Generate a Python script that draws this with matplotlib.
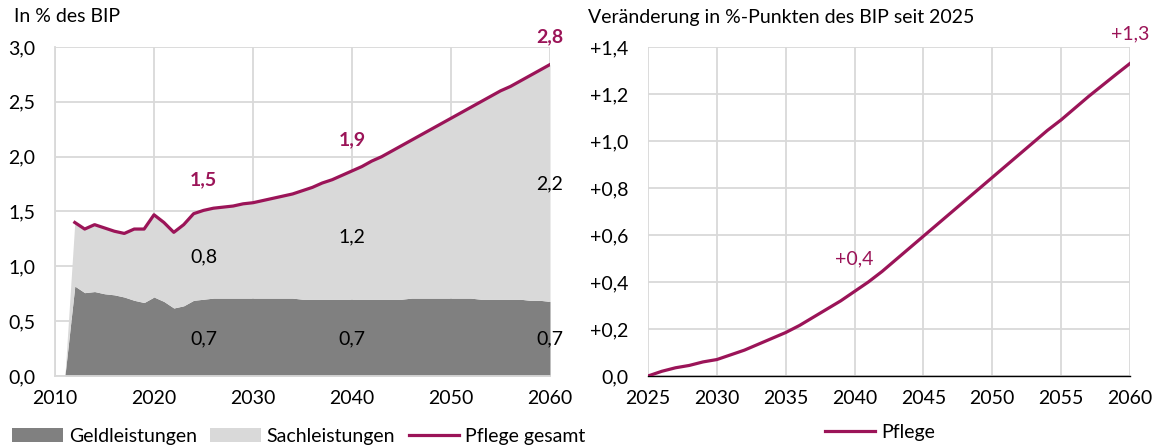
import matplotlib
matplotlib.use("Agg")
import matplotlib.pyplot as plt
from matplotlib.patches import Patch
from matplotlib.lines import Line2D
import numpy as np

plt.rcParams['font.family'] = ['Lato', 'DejaVu Sans']

years_left = list(range(2011, 2061))
geld = [0.0, 0.82, 0.76, 0.77, 0.75, 0.74, 0.72, 0.69, 0.67, 0.72,
        0.68, 0.62, 0.64, 0.69, 0.70, 0.71, 0.71, 0.71, 0.71, 0.71,
        0.71, 0.71, 0.71, 0.71, 0.70, 0.70, 0.70, 0.70, 0.70, 0.70,
        0.70, 0.70, 0.70, 0.70, 0.70, 0.71, 0.71, 0.71, 0.71, 0.71,
        0.71, 0.71, 0.70, 0.70, 0.70, 0.70, 0.70, 0.69, 0.69, 0.68]
gesamt = [0.0, 1.40, 1.34, 1.38, 1.35, 1.32, 1.30, 1.34, 1.34, 1.47,
          1.40, 1.31, 1.38, 1.48, 1.51, 1.53, 1.54, 1.55, 1.57, 1.58,
          1.60, 1.62, 1.64, 1.66, 1.69, 1.72, 1.76, 1.79, 1.83, 1.87,
          1.91, 1.96, 2.00, 2.05, 2.10, 2.15, 2.20, 2.25, 2.30, 2.35,
          2.40, 2.45, 2.50, 2.55, 2.60, 2.64, 2.69, 2.74, 2.79, 2.84]

years_right = list(range(2025, 2061))
delta = [0.0, 0.02, 0.035, 0.045, 0.06, 0.07, 0.09, 0.11, 0.135, 0.16,
         0.185, 0.215, 0.25, 0.285, 0.32, 0.36, 0.40, 0.445, 0.495, 0.545,
         0.595, 0.645, 0.695, 0.745, 0.795, 0.845, 0.895, 0.945, 0.995, 1.045,
         1.09, 1.14, 1.19, 1.237, 1.284, 1.33]

left_yticks = [0.0, 0.5, 1.0, 1.5, 2.0, 2.5, 3.0]
left_xticks = [2010, 2020, 2030, 2040, 2050, 2060]
right_yticks = [0.0, 0.2, 0.4, 0.6, 0.8, 1.0, 1.2, 1.4]
right_xticks = [2025, 2030, 2035, 2040, 2045, 2050, 2055, 2060]

c_dark = '#808080'
c_light = '#d9d9d9'
c_line = '#9b1458'
c_grid = '#d9d9d9'
fs = 14

W, H = 1158, 448
fig = plt.figure(figsize=(W / 100, H / 100), dpi=100)

def fx(p):
    return p / W

def fy(p):
    return 1 - p / H

ax1 = fig.add_axes([fx(55), fy(376), fx(550) - fx(55), fy(47) - fy(376)])
ax2 = fig.add_axes([fx(648), fy(376), fx(1130) - fx(648), fy(47) - fy(376)])

# Left chart
x = np.array(years_left)
g = np.array(geld)
t = np.array(gesamt)
ax1.fill_between(x, 0, g, color=c_dark, lw=0, zorder=2)
ax1.fill_between(x, g, t, color=c_light, lw=0, zorder=2)
ax1.plot(x[1:], t[1:], color=c_line, lw=2.3, zorder=3)
ax1.set_xlim(2010, 2060)
ax1.set_ylim(0, 3.0)
ax1.set_xticks(left_xticks)
ax1.set_yticks(left_yticks)
ax1.set_yticklabels([f"{v:.1f}".replace('.', ',') for v in left_yticks])
ax1.grid(True, color=c_grid, lw=1.3, zorder=0)
ax1.set_axisbelow(True)
for s in ax1.spines.values():
    s.set_visible(False)
ax1.spines['bottom'].set_visible(True)
ax1.spines['bottom'].set_color(c_grid)
ax1.spines['bottom'].set_linewidth(1.3)
ax1.spines['left'].set_visible(True)
ax1.spines['left'].set_color(c_grid)
ax1.spines['left'].set_linewidth(1.3)
ax1.tick_params(length=0, labelsize=fs, pad=14)
ax1.tick_params(axis='x', pad=10)

ax1.text(2025, 1.79, "1,5", color=c_line, fontsize=fs, fontweight='bold', ha='center', va='center')
ax1.text(2040, 2.15, "1,9", color=c_line, fontsize=fs, fontweight='bold', ha='center', va='center')
ax1.text(2060, 3.09, "2,8", color=c_line, fontsize=fs, fontweight='bold', ha='center', va='center')
ax1.text(2025, 1.09, "0,8", color='black', fontsize=fs, ha='center', va='center')
ax1.text(2040, 1.27, "1,2", color='black', fontsize=fs, ha='center', va='center')
ax1.text(2060, 1.75, "2,2", color='black', fontsize=fs, ha='center', va='center')
for xx in (2025, 2040, 2060):
    ax1.text(xx, 0.34, "0,7", color='black', fontsize=fs, ha='center', va='center')

fig.text(fx(14), fy(17), "In % des BIP", fontsize=fs, ha='left', va='center')

handles1 = [Patch(facecolor=c_dark, edgecolor='none', label='Geldleistungen'),
            Patch(facecolor=c_light, edgecolor='none', label='Sachleistungen'),
            Line2D([0], [0], color=c_line, lw=2.3, label='Pflege gesamt')]
fig.legend(handles=handles1, loc='center', bbox_to_anchor=(fx(299), fy(436)), ncol=3,
           frameon=False, fontsize=fs, handlelength=2.6, handleheight=0.75,
           handletextpad=0.3, columnspacing=0.7, borderaxespad=0)

# Right chart
ax2.plot(years_right, delta, color=c_line, lw=2.3, zorder=3)
ax2.set_xlim(2025, 2060)
ax2.set_ylim(0, 1.4)
ax2.set_xticks(right_xticks)
ax2.set_yticks(right_yticks)
ax2.set_yticklabels([("+" if v > 0 else "") + f"{v:.1f}".replace('.', ',') for v in right_yticks])
ax2.grid(True, color=c_grid, lw=1.3, zorder=0)
ax2.set_axisbelow(True)
for s in ax2.spines.values():
    s.set_visible(False)
ax2.spines['bottom'].set_visible(True)
ax2.spines['bottom'].set_color('black')
ax2.spines['bottom'].set_linewidth(1.0)
ax2.tick_params(length=0, labelsize=fs, pad=14)
ax2.tick_params(axis='x', pad=10)

ax2.text(2040, 0.50, "+0,4", color=c_line, fontsize=fs, ha='center', va='center')
ax2.text(2060, 1.455, "+1,3", color=c_line, fontsize=fs, ha='center', va='center', clip_on=False)

fig.text(fx(588), fy(17), "Veränderung in %-Punkten des BIP seit 2025", fontsize=fs, ha='left', va='center')

handles2 = [Line2D([0], [0], color=c_line, lw=2.3, label='Pflege')]
fig.legend(handles=handles2, loc='center', bbox_to_anchor=(fx(880), fy(432)), ncol=1,
           frameon=False, fontsize=fs, handlelength=2.6, handletextpad=0.3, borderaxespad=0)

fig.savefig("out.png", dpi=100)
